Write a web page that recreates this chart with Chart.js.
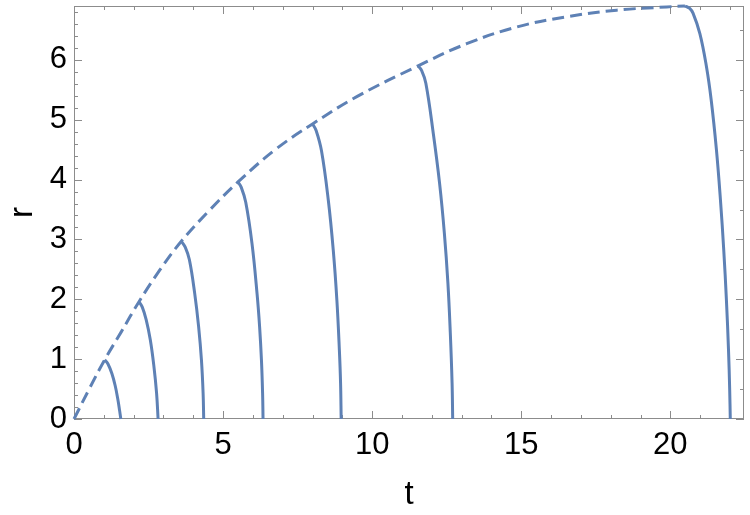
<!DOCTYPE html>
<html>
<head>
<meta charset="utf-8">
<script src="https://cdn.jsdelivr.net/npm/chart.js@4.4.1/dist/chart.umd.min.js"></script>
<style>
  html, body { margin: 0; padding: 0; background: #fff; }
  canvas { display: block; }
</style>
</head>
<body>
<canvas id="chart" width="750" height="515"></canvas>
<script>
// Gestrichelte Hüllkurve r(t)
const envelopeT = [0, 0.53, 1.03, 1.59, 2.18, 2.88, 3.60, 4.55, 5.50, 6.75, 8.00, 9.50, 11.54, 13.17, 14.85, 16.52, 18.20, 19.88, 20.49];
const envelopeR = [0, 0.52, 0.99, 1.46, 1.96, 2.49, 2.97, 3.49, 3.96, 4.50, 4.93, 5.39, 5.90, 6.27, 6.55, 6.72, 6.83, 6.885, 6.90];

// Kollaps-Kurven, jeweils vom Maximum bis r = 0
const fallT = [
  [1.03, 1.14, 1.27, 1.38, 1.47, 1.53, 1.57],
  [2.18, 2.29, 2.42, 2.56, 2.68, 2.77, 2.82],
  [3.60, 3.73, 3.87, 4.05, 4.18, 4.275, 4.33, 4.35],
  [5.50, 5.61, 5.76, 5.97, 6.14, 6.225, 6.287, 6.325, 6.34],
  [8.00, 8.12, 8.30, 8.53, 8.695, 8.817, 8.90, 8.94, 8.96],
  [11.54, 11.66, 11.80, 12.05, 12.26, 12.42, 12.54, 12.62, 12.68, 12.70],
  [20.49, 20.65, 20.76, 20.99, 21.21, 21.37, 21.545, 21.68, 21.79, 21.88, 21.95, 21.99, 22.01]
];
const fallR = [
  [0.99, 0.92, 0.76, 0.56, 0.33, 0.14, 0],
  [1.96, 1.87, 1.66, 1.32, 0.88, 0.43, 0],
  [2.97, 2.87, 2.66, 2.09, 1.54, 0.98, 0.43, 0],
  [3.96, 3.87, 3.62, 2.93, 2.09, 1.54, 0.98, 0.43, 0],
  [4.93, 4.82, 4.48, 3.65, 2.82, 1.98, 1.15, 0.60, 0],
  [5.90, 5.82, 5.61, 4.77, 3.94, 3.11, 2.27, 1.44, 0.60, 0],
  [6.90, 6.86, 6.78, 6.44, 5.89, 5.33, 4.50, 3.66, 2.83, 1.99, 1.16, 0.49, 0]
];

// Achsen
const xTicks = [0, 5, 10, 15, 20];
const yTicks = [0, 1, 2, 3, 4, 5, 6];
const xMax = 22.47;
const yMax = 6.9;

const lineColor = "#5e81b5";
const frameColor = "#8c8c8c";

function toPoints(ts, rs) {
  return ts.map((t, i) => ({ x: t, y: rs[i] }));
}

const datasets = [{
  data: toPoints(envelopeT, envelopeR),
  borderColor: lineColor,
  borderWidth: 3,
  borderDash: [12, 6],
  tension: 0.4,
  pointRadius: 0,
  showLine: true,
  clip: false
}];
fallT.forEach((ts, i) => {
  datasets.push({
    data: toPoints(ts, fallR[i]),
    borderColor: lineColor,
    borderWidth: 3,
    tension: 0.4,
    pointRadius: 0,
    showLine: true,
    clip: false
  });
});

// Rahmen mit nach innen zeigenden Ticks (Mathematica-Stil)
const frameTicks = {
  id: "frameTicks",
  beforeDatasetsDraw(chart) {
    const { ctx, chartArea: a, scales: { x, y } } = chart;
    ctx.save();
    ctx.strokeStyle = frameColor;
    ctx.lineWidth = 1;
    const seg = (x1, y1, x2, y2) => {
      ctx.beginPath();
      ctx.moveTo(x1, y1);
      ctx.lineTo(x2, y2);
      ctx.stroke();
    };
    ctx.strokeRect(a.left + 0.5, a.top + 0.5, a.right - a.left - 1, a.bottom - a.top - 1);
    // unten / oben
    for (let v = 0; v <= xMax; v += 1) {
      const px = Math.round(x.getPixelForValue(v)) + 0.5;
      const len = v % 5 === 0 ? 8 : 4;
      seg(px, a.bottom, px, a.bottom - len);
      seg(px, a.top, px, a.top + len);
    }
    // links: kleine Ticks alle 0.2
    for (let k = 0; k * 0.2 <= yMax; k++) {
      const py = Math.round(y.getPixelForValue(k * 0.2)) + 0.5;
      seg(a.left, py, a.left + (k % 5 === 0 ? 8 : 4), py);
    }
    // rechts: kleine Ticks alle 0.5
    for (let k = 0; k * 0.5 <= yMax; k++) {
      const py = Math.round(y.getPixelForValue(k * 0.5)) + 0.5;
      seg(a.right, py, a.right - (k % 2 === 0 ? 8 : 4), py);
    }
    ctx.restore();
  }
};

new Chart(document.getElementById("chart"), {
  type: "scatter",
  data: { datasets: datasets },
  plugins: [frameTicks],
  options: {
    responsive: false,
    devicePixelRatio: 1,
    animation: false,
    layout: { padding: { top: 6, right: 6, left: 0, bottom: 0 } },
    plugins: { legend: { display: false }, tooltip: { enabled: false } },
    scales: {
      x: {
        type: "linear",
        min: 0,
        max: xMax,
        grid: { display: false, drawTicks: false },
        border: { display: false },
        afterBuildTicks: s => { s.ticks = xTicks.map(v => ({ value: v })); },
        afterFit: s => { s.height = 96; s.paddingLeft = 0; s.paddingRight = 0; },
        ticks: {
          color: "#000",
          padding: 8,
          maxRotation: 0,
          font: { family: "Liberation Sans", size: 31 }
        },
        title: {
          display: true,
          text: "t",
          color: "#000",
          padding: 0,
          font: { family: "Liberation Sans", size: 33 }
        }
      },
      y: {
        type: "linear",
        min: 0,
        max: yMax,
        grid: { display: false, drawTicks: false },
        border: { display: false },
        afterBuildTicks: s => { s.ticks = yTicks.map(v => ({ value: v })); },
        afterFit: s => { s.width = 74; s.paddingTop = 0; s.paddingBottom = 0; },
        ticks: {
          color: "#000",
          padding: 7,
          font: { family: "Liberation Sans", size: 31 }
        },
        title: {
          display: true,
          text: "r",
          color: "#000",
          padding: { top: 3, bottom: 0 },
          font: { family: "Liberation Sans", size: 33 }
        }
      }
    }
  }
});
</script>
</body>
</html>
